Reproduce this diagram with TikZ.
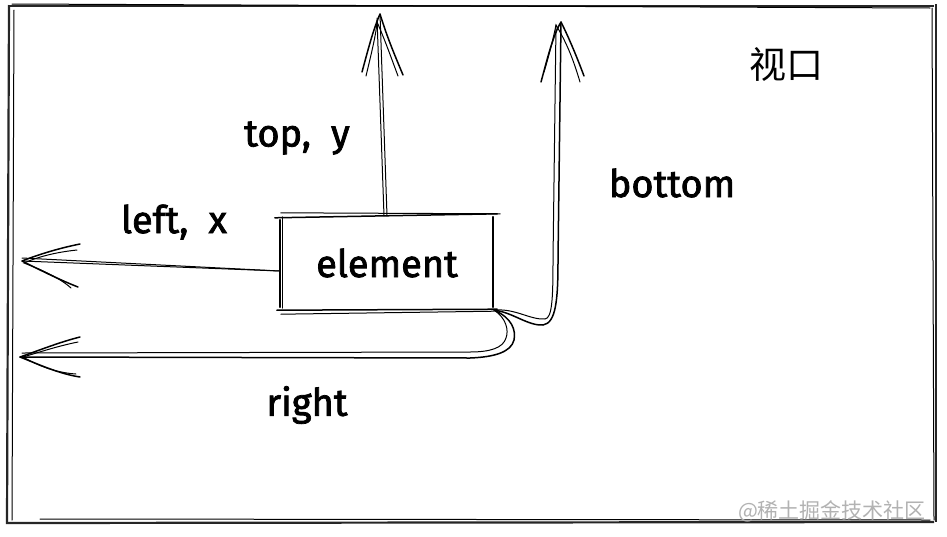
\documentclass[tikz,border=0pt]{standalone}
\usepackage{fontspec}
\setmainfont{Fira Sans}
\newfontfamily\hand{Fira Sans}[FakeBold=2]
\newfontfamily\cjk{Noto Sans CJK SC}
\begin{document}
\begin{tikzpicture}[x=1pt,y=-1pt,
  ink/.style={line width=1.5pt, line cap=round, line join=round, black},
  thin/.style={line width=1pt, line cap=round, black},
  lbl/.style={font=\hand\fontsize{38}{44}\selectfont, inner sep=0pt},
  frame/.style={line width=2.2pt, black!85}]
\useasboundingbox[fill=white] (0,0) rectangle (947,536);
% viewport frame (sketchy double lines)
\draw[frame] (8,6) -- (934,6);
\draw[thin] (12,4) -- (930,8);
\draw[frame] (936,4) -- (936,522);
\draw[thin] (932,8) -- (934,520);
\draw[frame] (934,522) -- (8,523);
\draw[thin] (40,519) -- (930,520);
\draw[frame] (9,5) -- (7,524);
\draw[thin] (14,10) -- (12,520);
% element box
\node[minimum width=214pt, minimum height=94pt, inner sep=0pt, font=\hand\fontsize{38}{44}\selectfont] (el) at (387,263) {element};
\draw[ink] ([xshift=-5pt,yshift=-2pt]el.north west) -- ([xshift=3pt,yshift=2pt]el.north east);
\draw[thin] ([xshift=1pt,yshift=3pt]el.north west) -- ([xshift=6pt,yshift=2pt]el.north east);
\draw[ink] ([xshift=-3pt]el.south west) -- ([xshift=3pt,yshift=1pt]el.south east);
\draw[thin] ([xshift=1pt,yshift=-4pt]el.south west) -- ([yshift=-1pt]el.south east);
\draw[ink] ([yshift=-4pt]el.north west) -- ([yshift=3pt]el.south west);
\draw[thin] ([xshift=3pt,yshift=-1pt]el.north west) -- ([xshift=3pt,yshift=2pt]el.south west);
\draw[ink] ([xshift=-1pt,yshift=-1pt]el.north east) -- ([xshift=-1pt,yshift=3pt]el.south east);
% free ends
\coordinate (ttip) at (380,14);
\coordinate (btip) at (561,22);
\coordinate (ltip) at (22,261);
\coordinate (rtip) at (20,357);
% top arrow
\draw[thin] ([xshift=-3pt]el.north) -- (377,18);
\draw[thin] ([xshift=0pt]el.north) -- (ttip);
\draw[ink] (362,72) .. controls (368,50) and (373,30) .. (ttip) .. controls (388,40) and (396,58) .. (403,75);
\draw[thin] (366,76) .. controls (371,55) and (376,35) .. (377,22) .. controls (385,40) and (392,60) .. (398,76);
% bottom arrow
\draw[ink] (el.south east) .. controls (512,312) and (528,326) .. (543,325) .. controls (556,323) and (558,300) .. (558,260) -- (btip);
\draw[thin] (el.south east) .. controls (515,308) and (530,320) .. (545,319) .. controls (552,318) and (553,300) .. (553,260) -- (556,25);
\draw[ink] (541,82) .. controls (547,60) and (553,35) .. (btip) .. controls (570,40) and (578,60) .. (584,76);
\draw[thin] (544,72) .. controls (550,52) and (554,35) .. (556,25) .. controls (568,45) and (574,62) .. (580,82);
% left arrow
\draw[thin] ([yshift=-8pt]el.west) -- (ltip);
\draw[thin] ([yshift=-8pt]el.west) -- ([yshift=3pt]ltip);
\draw[ink] (80,244) .. controls (60,248) and (40,254) .. (ltip) .. controls (40,270) and (60,280) .. (78,287);
\draw[thin] (77,250) .. controls (58,252) and (40,256) .. (24,263) .. controls (42,270) and (60,278) .. (71,288);
% right arrow
\draw[ink] (el.south east) .. controls (512,318) and (516,330) .. (514,340) .. controls (511,352) and (495,357) .. (470,358) -- (rtip);
\draw[thin] (el.south east) .. controls (506,318) and (509,330) .. (506,338) .. controls (503,348) and (490,352) .. (470,352) -- (22,353);
\draw[ink] (80,337) .. controls (60,342) and (40,350) .. (rtip) .. controls (40,365) and (60,374) .. (80,377);
\draw[thin] (78,342) .. controls (58,346) and (40,352) .. (23,357) .. controls (42,368) and (60,373) .. (76,374);
% labels
\node[lbl] (ltop) at (297,138) {top,\ \ y};
\node[lbl] (lleft) at (174,222) {left,\ \ x};
\node[lbl] (lbottom) at (672,183) {bottom};
\node[lbl] (lright) at (307,405) {right};
\node[inner sep=0pt, font=\cjk\fontsize{37}{42}\selectfont] (vp) at (786,64) {视口};
\node[inner sep=0pt, text=black!30, font=\cjk\fontsize{21}{24}\selectfont] (wm) at (832,511) {@稀土掘金技术社区};
\end{tikzpicture}
\end{document}
